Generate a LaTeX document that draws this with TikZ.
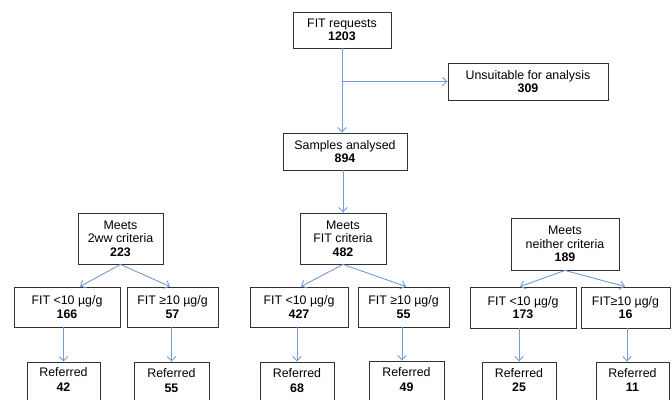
\documentclass[tikz,border=0pt]{standalone}
\usepackage{fontspec}
\setmainfont{Liberation Sans}
\usetikzlibrary{arrows.meta}
\definecolor{arrowblue}{RGB}{115,155,212}
\definecolor{boxline}{RGB}{50,50,50}
\tikzset{
  box/.style={draw=boxline, line width=0.9pt, inner sep=0pt, align=center,
    font=\fontsize{12.4}{13.5}\selectfont},
  reftext/.style={inner sep=0pt, align=center, font=\fontsize{12.4}{14.5}\selectfont},
  flow/.style={draw=arrowblue, line width=0.9pt, -{Straight Barb[length=4.5pt,width=8.5pt]}},
  flowline/.style={draw=arrowblue, line width=0.9pt}
}
\begin{document}
\begin{tikzpicture}[x=1pt,y=-1pt]
\useasboundingbox (0,0) rectangle (672,399);
% top
\node[box, minimum width=98, minimum height=36] (req) at (342,30) {FIT requests\\\textbf{1203}};
\node[box, minimum width=160, minimum height=37] (uns) at (528,81.5) {Unsuitable for analysis\\\textbf{309}};
\node[box, minimum width=124, minimum height=37] (sam) at (345,151.5) {Samples analysed\\\textbf{894}};
% criteria
\node[box, minimum width=85, minimum height=51] (www) at (120.5,238.5) {Meets\\2ww criteria\\\textbf{223}};
\node[box, minimum width=86, minimum height=51] (fitc) at (343,238.5) {Meets\\FIT criteria\\\textbf{482}};
\node[box, minimum width=108, minimum height=52] (nei) at (565,244) {Meets\\neither criteria\\\textbf{189}};
% FIT levels
\node[box, minimum width=106, minimum height=40] (l1) at (67,307) {FIT <10 µg/g\\\textbf{166}};
\node[box, minimum width=91, minimum height=40] (l2) at (172.5,307) {FIT ≥10 µg/g\\\textbf{57}};
\node[box, minimum width=98, minimum height=40] (m1) at (299,307) {FIT <10 µg/g\\\textbf{427}};
\node[box, minimum width=91, minimum height=40] (m2) at (403.5,307) {FIT ≥10 µg/g\\\textbf{55}};
\node[box, minimum width=106, minimum height=41] (r1) at (523,307.5) {FIT <10 µg/g\\\textbf{173}};
\node[box, minimum width=89, minimum height=41] (r2) at (625.5,307.5) {FIT≥10 µg/g\\\textbf{16}};
% referred boxes (cut off at bottom)
\node[box, minimum width=73, minimum height=46] (f1) at (63.5,385) {};
\node[box, minimum width=75, minimum height=46] (f2) at (171.5,385) {};
\node[box, minimum width=74, minimum height=46] (f3) at (297,385) {};
\node[box, minimum width=75, minimum height=46] (f4) at (406.5,384) {};
\node[box, minimum width=74, minimum height=46] (f5) at (519,385) {};
\node[box, minimum width=73, minimum height=46] (f6) at (632.5,385) {};
\node[reftext] (t1) at (63.5,379.5) {Referred\\\textbf{42}};
\node[reftext] (t2) at (171.5,380.5) {Referred\\\textbf{55}};
\node[reftext] (t3) at (297,380.5) {Referred\\\textbf{68}};
\node[reftext] (t4) at (406.5,379.5) {Referred\\\textbf{49}};
\node[reftext] (t5) at (519,380) {Referred\\\textbf{25}};
\node[reftext] (t6) at (632.5,380) {Referred\\\textbf{11}};
% connectors
\coordinate (j) at (req.south |- uns.west);
\draw[flow] (req.south) -- (req.south |- sam.north);
\draw[flow] (j) -- (uns.west);
\draw[flow] (sam.south -| fitc.north) -- (fitc.north);
\draw[flow] (www.south) -- ([xshift=13pt]l1.north);
\draw[flow] (www.south) -- ([xshift=-2.5pt]l2.north);
\draw[flow] (fitc.south) -- ([xshift=2pt]m1.north);
\draw[flow] (fitc.south) -- ([xshift=2.5pt]m2.north);
\draw[flow] (nei.south) -- ([xshift=-3pt]r1.north);
\draw[flow] (nei.south) -- ([xshift=-0.5pt]r2.north);
\draw[flow] (l1.south -| f1.north) -- (f1.north);
\draw[flow] (l2.south -| f2.north) -- (f2.north);
\draw[flow] (m1.south -| f3.north) -- (f3.north);
\draw[flow] ([xshift=-1.5pt]m2.south) -- ([xshift=-1.5pt]m2.south |- f4.north);
\draw[flow] (r1.south -| f5.north) -- (f5.north);
\draw[flow] ([xshift=1.5pt]r2.south) -- ([xshift=1.5pt]r2.south |- f6.north);
\end{tikzpicture}
\end{document}
